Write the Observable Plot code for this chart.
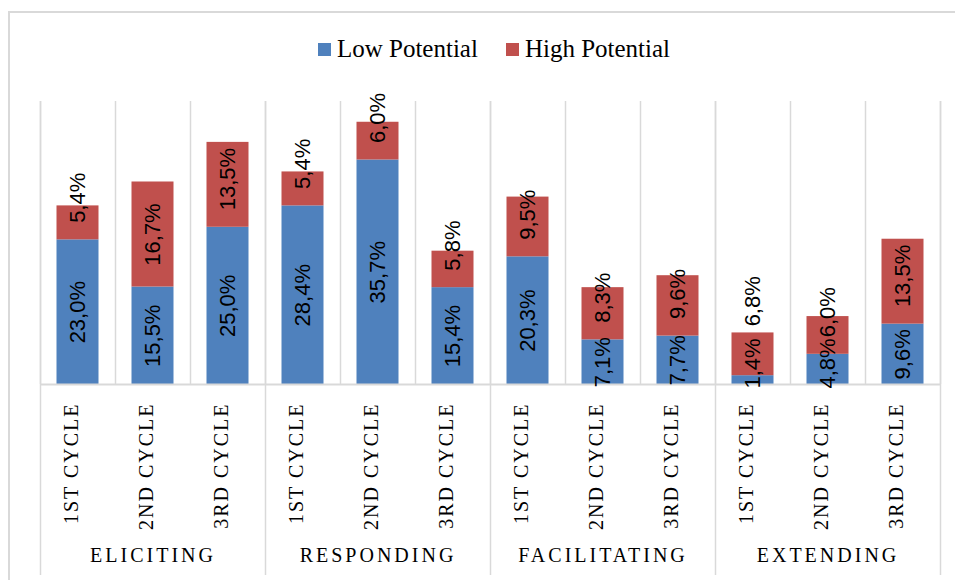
<!DOCTYPE html>
<html>
<head>
<meta charset="utf-8">
<script src="https://cdn.jsdelivr.net/npm/d3@7"></script>
<script src="https://cdn.jsdelivr.net/npm/@observablehq/plot@0.6"></script>
<style>
  html, body { margin: 0; padding: 0; background: #fff; }
  #wrap { position: relative; width: 955px; height: 580px; overflow: hidden; }
  #border { position: absolute; left: 8px; top: 11px; width: 1100px; height: 800px;
            border: 2px solid #d9d9d9; box-sizing: border-box; pointer-events: none; }
  #legend { position: absolute; left: 0; top: 34px; width: 988px; height: 30px;
            display: flex; justify-content: center; align-items: center;
            font-family: "Liberation Serif", serif; font-size: 25px; color: #000; }
  .item { display: flex; align-items: center; margin: 0 14px; }
  .swatch { width: 13px; height: 13px; margin-right: 6px; }
  #chart { position: absolute; left: 0; top: 80px; }
</style>
</head>
<body>
<div id="wrap">
  <div id="legend"></div>
  <div id="chart"></div>
  <div id="border"></div>
</div>
<script>
// Feedback moves per cycle, split by potential (percent of moves)
const groups = ["ELICITING", "RESPONDING", "FACILITATING", "EXTENDING"];
const cycles = ["1ST CYCLE", "2ND CYCLE", "3RD CYCLE"];
const seriesNames = ["Low Potential", "High Potential"];
const seriesColors = ["#4f81bd", "#c0504d"];
const lowPotential  = [23.0, 15.5, 25.0, 28.4, 35.7, 15.4, 20.3, 7.1, 7.7, 1.4, 4.8, 9.6];
const highPotential = [5.4, 16.7, 13.5, 5.4, 6.0, 5.8, 9.5, 8.3, 9.6, 6.8, 6.0, 13.5];

const W = 955, H = 500, mTop = 21, mBottom = 196, mLeft = 40, mRight = 15;
const yMax = 45;
const pxPerUnit = (H - mTop - mBottom) / yMax;
const valueFont = 22;

const fmt = v => v.toFixed(1).replace(".", ",") + "%";

// one row per bar
const rows = [];
groups.forEach((g, gi) => cycles.forEach((c, ci) => {
  const i = gi * cycles.length + ci;
  rows.push({i, group: g, cycle: c, low: lowPotential[i], high: highPotential[i]});
}));

const segments = rows.flatMap(r => [
  {i: r.i, series: seriesNames[0], y1: 0, y2: r.low},
  {i: r.i, series: seriesNames[1], y1: r.low, y2: r.low + r.high}
]);

// measure rotated label lengths so they can be kept clear of the baseline and of each other
const ctx = document.createElement("canvas").getContext("2d");
ctx.font = `${valueFont}px "Liberation Sans"`;
const half = s => ctx.measureText(s).width / 2 / pxPerUnit;

const labels = rows.flatMap(r => {
  const lowText = fmt(r.low), highText = fmt(r.high);
  const hl = half(lowText), hh = half(highText);
  const lowY = Math.max(r.low / 2, hl - 4 / pxPerUnit);
  let highY = Math.max(r.low + r.high / 2, r.low + 17 / pxPerUnit + hh);
  const lowTop = lowY + hl;
  if (lowTop - (highY - hh) > 3 / pxPerUnit) highY = lowTop + 12 / pxPerUnit + hh;
  return [
    {i: r.i, y: lowY, text: lowText},
    {i: r.i, y: highY, text: highText}
  ];
});

const boundaries = d3.range(rows.length + 1);
const groupEdges = d3.range(0, rows.length + 1, cycles.length);

const plot = Plot.plot({
  width: W, height: H,
  marginTop: mTop, marginBottom: mBottom, marginLeft: mLeft, marginRight: mRight,
  x: {domain: [0, rows.length], axis: null},
  y: {domain: [0, yMax], axis: null},
  color: {domain: seriesNames, range: seriesColors},
  style: {background: "transparent", overflow: "visible"},
  marks: [
    Plot.ruleX(boundaries, {stroke: "#d9d9d9", strokeWidth: 1.5}),
    Plot.ruleX(groupEdges, {stroke: "#d9d9d9", strokeWidth: 1.5, insetBottom: -191}),
    Plot.rectY(segments, {
      x1: d => d.i, x2: d => d.i + 1, y1: "y1", y2: "y2", fill: "series",
      insetLeft: 16.5, insetRight: 16.5
    }),
    Plot.ruleY([0], {stroke: "#d9d9d9", strokeWidth: 2}),
    Plot.text(labels, {
      x: d => d.i + 0.5, y: "y", text: "text", rotate: -90,
      fontSize: valueFont, fontFamily: "Liberation Sans", fill: "#000"
    }),
    Plot.text(rows, {
      x: d => d.i + 0.5, text: "cycle", frameAnchor: "bottom", dy: 18,
      rotate: -90, textAnchor: "end", fontSize: 20, fontFamily: "Liberation Serif",
      fill: "#000", ariaDescription: "cycle-labels"
    }),
    Plot.text(groups, {
      x: (d, j) => j * cycles.length + cycles.length / 2, text: d => d,
      frameAnchor: "bottom", dy: 177, fontSize: 20, fontFamily: "Liberation Serif",
      fill: "#000", ariaDescription: "group-labels"
    })
  ]
});

// letter-spaced category text
plot.querySelectorAll('[aria-description="cycle-labels"] text').forEach(t => t.setAttribute("letter-spacing", "2"));
plot.querySelectorAll('[aria-description="group-labels"] text').forEach(t => t.setAttribute("letter-spacing", "3"));
document.getElementById("chart").appendChild(plot);

const legend = document.getElementById("legend");
seriesNames.forEach((name, k) => {
  const item = document.createElement("div");
  item.className = "item";
  const sw = document.createElement("span");
  sw.className = "swatch";
  sw.style.background = seriesColors[k];
  const label = document.createElement("span");
  label.textContent = name;
  item.append(sw, label);
  legend.appendChild(item);
});
</script>
</body>
</html>
